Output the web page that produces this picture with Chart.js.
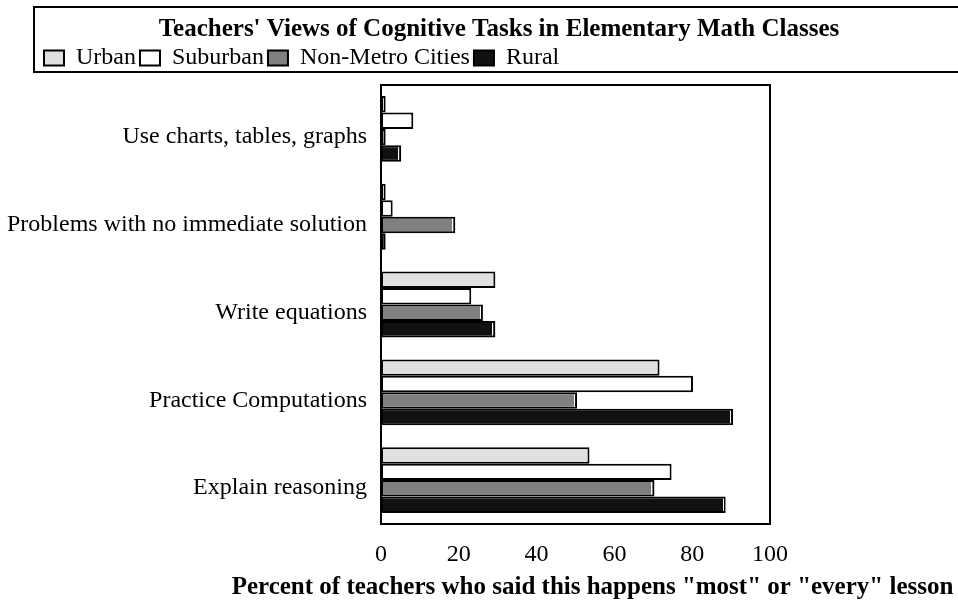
<!DOCTYPE html>
<html>
<head>
<meta charset="utf-8">
<script src="https://cdn.jsdelivr.net/npm/chart.js@4/dist/chart.umd.min.js"></script>
<style>
html,body{margin:0;padding:0;background:#fff;}
#c{display:block;}
</style>
</head>
<body>
<canvas id="c" width="958" height="605"></canvas>
<script>
const chartTitle = "Teachers' Views of Cognitive Tasks in Elementary Math Classes";
const axisTitle = 'Percent of teachers who said this happens "most" or "every" lesson';
const categories = ['Use charts, tables, graphs', 'Problems with no immediate solution', 'Write equations', 'Practice Computations', 'Explain reasoning'];
const seriesNames = ['Urban', 'Suburban', 'Non-Metro Cities', 'Rural'];
const urban = [1.2, 1.2, 29.4, 71.6, 53.6];
const suburban = [8.3, 3, 23.2, 80.2, 74.7];
const nonMetro = [1.2, 19.1, 26.2, 50.4, 70.3];
const rural = [5.2, 1.2, 29.4, 90.5, 88.6];
const xTicks = [0, 20, 40, 60, 80, 100];

const FONT = "'Liberation Serif', 'Times New Roman', serif";
Chart.defaults.font.family = FONT;
Chart.defaults.color = '#000';

const fills = ['#e0e0e0', '#ffffff', '#808080', '#111111'];
const seriesData = [urban, suburban, nonMetro, rural];

const datasets = seriesNames.map((name, i) => ({
  label: name,
  data: seriesData[i],
  backgroundColor: fills[i],
  borderColor: '#000',
  borderWidth: 2,
  borderSkipped: false,
  barPercentage: 1,
  categoryPercentage: 0.75
}));

const HEADER_LEFT = 40;

const framePlugin = {
  id: 'frames',
  afterLayout(chart) {
    if (chart.titleBlock) chart.titleBlock.left = HEADER_LEFT;
    if (chart.legend) chart.legend.left = HEADER_LEFT;
  },
  afterDatasetsDraw(chart) {
    const ctx = chart.ctx;
    ctx.save();
    ctx.strokeStyle = '#fff';
    ctx.lineWidth = 1;
    [2, 3].forEach(di => {
      const meta = chart.getDatasetMeta(di);
      meta.data.forEach(el => {
        const p = el.getProps(['x', 'y', 'base', 'height'], true);
        const w = p.x - p.base;
        if (w > 8) {
          const lx = Math.round(p.x - 2) - 0.5;
          ctx.beginPath();
          ctx.moveTo(lx, p.y - p.height / 2 + 2);
          ctx.lineTo(lx, p.y + p.height / 2 - 2);
          ctx.stroke();
        }
      });
    });
    ctx.restore();
  },
  afterDraw(chart) {
    const ctx = chart.ctx;
    const a = chart.chartArea;
    ctx.save();
    ctx.strokeStyle = '#000';
    ctx.lineWidth = 2;
    ctx.strokeRect(a.left, a.top, a.right - a.left, a.bottom - a.top);
    const boxTop = 7;
    const boxBottom = a.top - 13;
    ctx.strokeRect(HEADER_LEFT - 6, boxTop, chart.width + 10, boxBottom - boxTop);
    const xs = chart.scales.x;
    ctx.fillStyle = '#000';
    ctx.font = "bold 25px " + FONT;
    ctx.textAlign = 'center';
    ctx.textBaseline = 'middle';
    ctx.fillText(axisTitle, (a.left + a.right) / 2 + 17, xs.bottom - 17);
    ctx.restore();
  }
};

new Chart(document.getElementById('c'), {
  type: 'bar',
  data: { labels: categories, datasets },
  options: {
    indexAxis: 'y',
    responsive: false,
    animation: false,
    devicePixelRatio: 1,
    layout: { padding: { left: 0, right: 0, top: 0, bottom: 0 } },
    plugins: {
      title: {
        display: true,
        text: chartTitle,
        color: '#000',
        font: { family: FONT, size: 25, weight: 'bold' },
        padding: { top: 15, bottom: -3 }
      },
      legend: {
        display: true,
        position: 'top',
        align: 'start',
        labels: {
          boxWidth: 20,
          boxHeight: 15,
          padding: 4,
          color: '#000',
          font: { family: FONT, size: 24 }
        }
      },
      tooltip: { enabled: false }
    },
    scales: {
      x: {
        type: 'linear',
        position: 'bottom',
        min: 0,
        max: 100,
        afterBuildTicks(s) { s.ticks = xTicks.map(v => ({ value: v })); },
        ticks: { padding: 16, color: '#000', font: { family: FONT, size: 24 } },
        grid: { display: false, drawTicks: false },
        border: { display: false },
        title: { display: false },
        afterFit(s) { s.height = 81; }
      },
      xTop: {
        type: 'linear',
        axis: 'x',
        position: 'top',
        display: true,
        grid: { display: false, drawTicks: false },
        ticks: { display: false },
        border: { display: false },
        afterFit(s) { s.height = 5; }
      },
      y: {
        type: 'category',
        position: 'left',
        ticks: { padding: 14, labelOffset: 8, color: '#000', font: { family: FONT, size: 24 } },
        grid: { display: false, drawTicks: false },
        border: { display: false },
        afterFit(s) { s.width = 381; }
      },
      yRight: {
        type: 'linear',
        axis: 'y',
        position: 'right',
        display: true,
        grid: { display: false, drawTicks: false },
        ticks: { display: false },
        border: { display: false },
        afterFit(s) { s.width = 188; }
      }
    }
  },
  plugins: [framePlugin]
});
</script>
</body>
</html>
